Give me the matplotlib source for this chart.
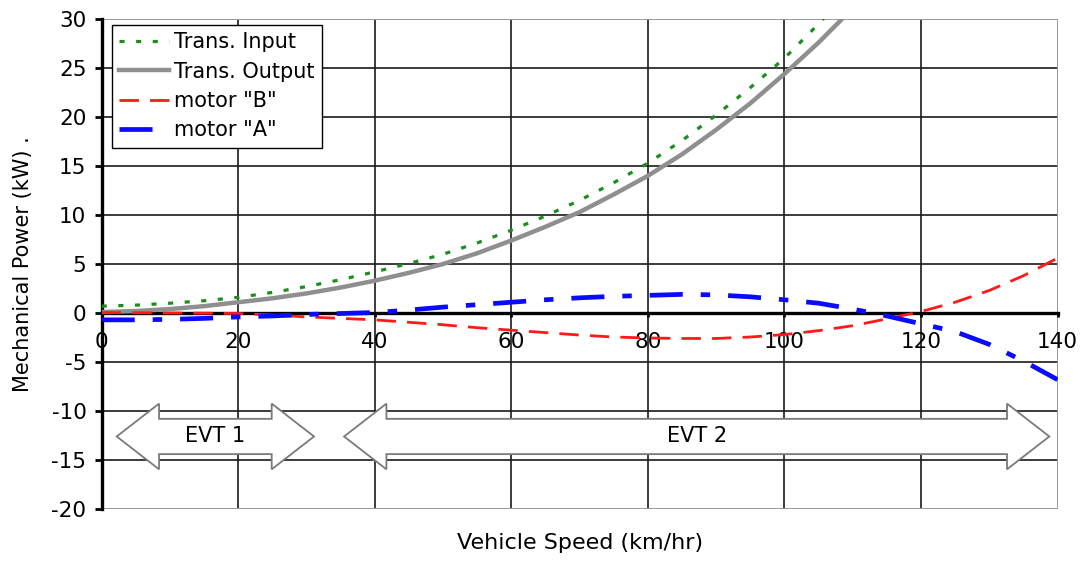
import numpy as np
import matplotlib.pyplot as plt
from matplotlib.patches import Polygon

#vehicle speed points (km/hr)
speed = np.array([0, 5, 10, 15, 20, 25, 30, 35, 40, 45, 50, 55, 60, 65, 70, 75, 80, 85, 90, 95, 100,
                  105, 110, 115, 120, 125, 130, 135, 140])

#mechanical power (kW) of each path
trans_in = np.array([0.7, 0.8, 1.0, 1.25, 1.6, 2.1, 2.7, 3.4, 4.2, 5.05, 6.0, 7.15, 8.45, 9.9, 11.5, 13.3, 15.3,
                     17.6, 20.2, 23.0, 26.0, 29.5, 33.3, 37.0, 41.0, 45.0, 49.0, 53.0, 57.0])
trans_out = np.array([0.1, 0.2, 0.4, 0.7, 1.1, 1.5, 2.0, 2.6, 3.3, 4.1, 5.0, 6.1, 7.4, 8.8, 10.3, 12.1, 14.0,
                      16.2, 18.7, 21.4, 24.4, 27.6, 31.1, 34.8, 38.7, 42.7, 46.8, 51.0, 55.3])
motor_b = np.array([0.05, 0.03, 0.0, -0.02, -0.05, -0.2, -0.4, -0.55, -0.7, -0.95, -1.2, -1.5, -1.75, -2.0,
                    -2.25, -2.45, -2.55, -2.6, -2.6, -2.45, -2.2, -1.8, -1.3, -0.6, 0.15, 1.1, 2.3, 3.8, 5.6])
motor_a = np.array([-0.7, -0.7, -0.65, -0.55, -0.4, -0.3, -0.15, -0.05, 0.05, 0.3, 0.6, 0.85, 1.1, 1.35,
                    1.55, 1.7, 1.8, 1.9, 1.85, 1.65, 1.35, 1.0, 0.4, -0.3, -1.1, -1.9, -3.2, -4.9, -6.8])

#operating modes: (label, start speed, end speed)
modes = [('EVT 1', 2.2, 31.1), ('EVT 2', 35.5, 138.8)]

xticks = np.arange(0, 141, 20)
yticks = np.arange(-20, 31, 5)

plt.rcParams['font.family'] = 'DejaVu Sans'
plt.rcParams['axes.unicode_minus'] = False

fig = plt.figure(figsize=(10.83, 5.61), dpi=100)
ax = fig.add_axes([0.0939, 0.0927, 0.8826, 0.8734])

#grid lines, outer frame in grey
for v in xticks[1:-1]:
    ax.axvline(v, color='#1a1a1a', lw=1.2, zorder=1)
for p in yticks[1:-1]:
    ax.axhline(p, color='#1a1a1a', lw=1.2, zorder=1)
ax.axvline(140, color='#9a9a9a', lw=1.4, zorder=1)
ax.axhline(30, color='#9a9a9a', lw=1.4, zorder=1)
ax.axhline(-20, color='#9a9a9a', lw=1.4, zorder=1)

#double headed arrows for the EVT modes
def mode_arrow(x0, x1, yc, body=1.8, head=3.35, hl=6.2):
    pts = [(x0, yc), (x0+hl, yc+head), (x0+hl, yc+body), (x1-hl, yc+body),
           (x1-hl, yc+head), (x1, yc), (x1-hl, yc-head), (x1-hl, yc-body),
           (x0+hl, yc-body), (x0+hl, yc-head)]
    return Polygon(pts, closed=True, facecolor='white', edgecolor='#7a7a7a', lw=1.3, zorder=2)

for name, x0, x1 in modes:
    ax.add_patch(mode_arrow(x0, x1, -12.6))
    ax.text((x0+x1)/2, -12.6, name, ha='center', va='center', fontsize=15, zorder=3)

#power curves
ax.plot(speed, trans_in, color='#1e8c1e', lw=2.3, dashes=(1.6, 3.6), label='Trans. Input', zorder=4)
ax.plot(speed, trans_out, color='#8f8f8f', lw=3.2, label='Trans. Output', zorder=4)
ax.plot(speed, motor_b, color='#ff1a1a', lw=2.0, dashes=(7, 4), label='motor "B"', zorder=5)
ax.plot(speed, motor_a, color='#0a0aff', lw=3.4, dashes=(7, 3.8, 2, 3.8), label='motor "A"', zorder=5)

ax.set_xlim(0, 140)
ax.set_ylim(-20, 30)
ax.set_xticks(xticks)
ax.set_yticks(yticks)

#x axis sits on the zero line
ax.spines['bottom'].set_position(('data', 0))
ax.spines['bottom'].set_linewidth(2.4)
ax.spines['left'].set_linewidth(2.4)
ax.spines['top'].set_visible(False)
ax.spines['right'].set_visible(False)
ax.spines['bottom'].set_zorder(3)
ax.tick_params(axis='x', direction='out', length=3, width=2, pad=11, labelsize=15.5)
ax.tick_params(axis='y', direction='out', length=5, width=2, pad=6, labelsize=15.5)

ax.set_xlabel('Vehicle Speed (km/hr)', fontsize=16)
ax.xaxis.set_label_coords(0.5, -0.05)
ax.set_ylabel('Mechanical Power (kW) .', fontsize=15)
ax.yaxis.set_label_coords(-0.072, 0.5)

leg = ax.legend(loc='upper left', bbox_to_anchor=(0.0105, 0.988), borderaxespad=0,
                fontsize=15, handlelength=2.4, handletextpad=0.25, labelspacing=0.45,
                borderpad=0.35, fancybox=False, framealpha=1, edgecolor='black')
leg.get_frame().set_linewidth(1.0)
leg.set_zorder(6)

plt.savefig('out.png', dpi=100)
